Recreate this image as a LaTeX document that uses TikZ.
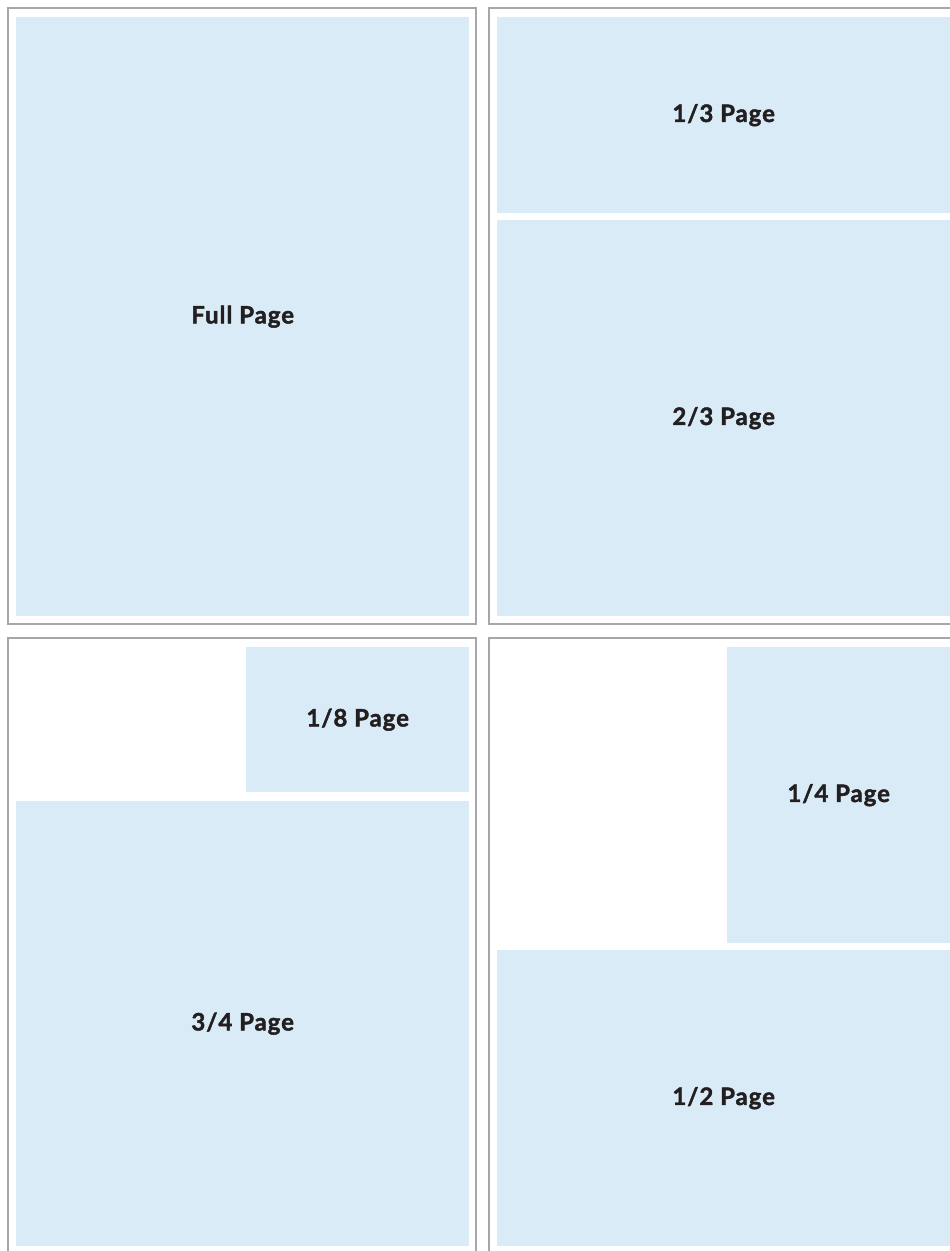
\documentclass[tikz,border=0pt]{standalone}
\usepackage{fontspec}
\setmainfont{Lato}
\newfontfamily\adlabelfont[BoldFeatures={FakeBold=1.8},LetterSpace=4]{Lato}
\definecolor{pagefill}{HTML}{DAEBF8}
\definecolor{framegray}{HTML}{A6A7AA}
\definecolor{ink}{HTML}{231F20}
\begin{document}
\begin{tikzpicture}[x=1pt,y=-1pt,
  adbox/.style={fill=pagefill, draw=none, inner sep=0pt, anchor=north west,
    font=\adlabelfont\fontsize{24}{24}\selectfont\bfseries, text=ink},
  frameline/.style={draw=framegray, line width=2.5pt}]
\useasboundingbox (0,0) rectangle (950,1251);
% frames
\draw[frameline] (8,8) rectangle (476,624);
\draw[frameline] (950,8) -- (489,8) -- (489,624) -- (950,624);
\draw[frameline] (8,1251) -- (8,638) -- (476,638) -- (476,1251);
\draw[frameline] (950,638) -- (489,638) -- (489,1251);
% ad boxes
\node[adbox, minimum width=453pt, minimum height=599pt] (full) at (16,17) {Full Page};
\node[adbox, minimum width=453pt, minimum height=196pt] (third) at (497,17) {1/3 Page};
\node[adbox, minimum width=453pt, minimum height=396pt] (twothirds) at (497,220) {2/3 Page};
\node[adbox, minimum width=223pt, minimum height=145pt] (eighth) at (246,647) {1/8 Page};
\node[adbox, minimum width=453pt, minimum height=445pt] (threeq) at (16,801) {3/4 Page};
\node[adbox, minimum width=223pt, minimum height=296pt] (quarter) at (727,647) {1/4 Page};
\node[adbox, minimum width=453pt, minimum height=296pt] (half) at (497,950) {1/2 Page};
\end{tikzpicture}
\end{document}
